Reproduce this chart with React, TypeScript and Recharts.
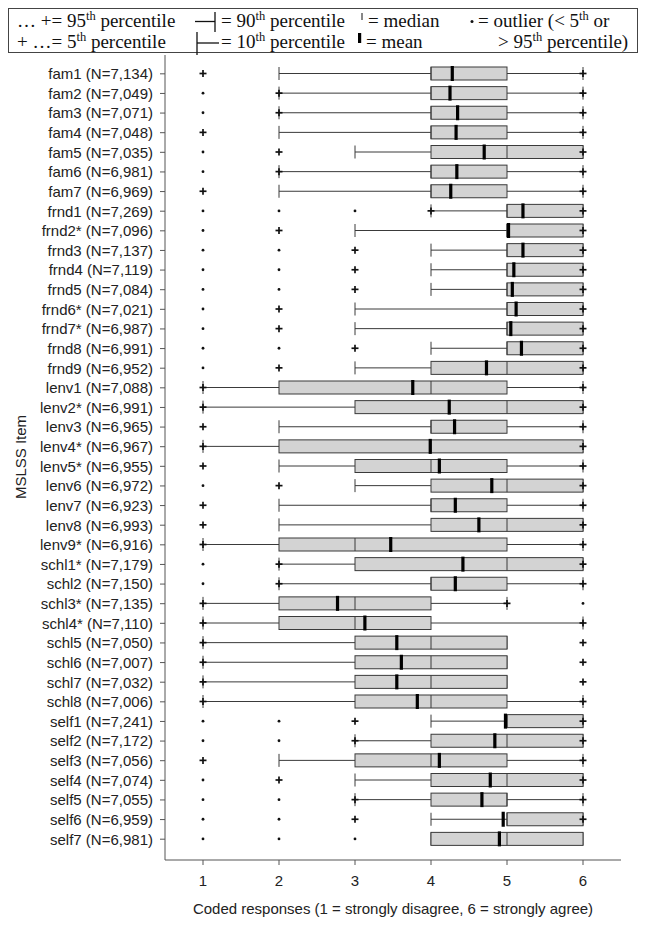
import React from 'react';
import { ComposedChart, Bar, XAxis, YAxis } from 'recharts';

const items = [
  'fam1 (N=7,134)', 'fam2 (N=7,049)', 'fam3 (N=7,071)', 'fam4 (N=7,048)',
  'fam5 (N=7,035)', 'fam6 (N=6,981)', 'fam7 (N=6,969)',
  'frnd1 (N=7,269)', 'frnd2* (N=7,096)', 'frnd3 (N=7,137)', 'frnd4 (N=7,119)',
  'frnd5 (N=7,084)', 'frnd6* (N=7,021)', 'frnd7* (N=6,987)', 'frnd8 (N=6,991)',
  'frnd9 (N=6,952)',
  'lenv1 (N=7,088)', 'lenv2* (N=6,991)', 'lenv3 (N=6,965)', 'lenv4* (N=6,967)',
  'lenv5* (N=6,955)', 'lenv6 (N=6,972)', 'lenv7 (N=6,923)', 'lenv8 (N=6,993)',
  'lenv9* (N=6,916)',
  'schl1* (N=7,179)', 'schl2 (N=7,150)', 'schl3* (N=7,135)', 'schl4* (N=7,110)',
  'schl5 (N=7,050)', 'schl6 (N=7,007)', 'schl7 (N=7,032)', 'schl8 (N=7,006)',
  'self1 (N=7,241)', 'self2 (N=7,172)', 'self3 (N=7,056)', 'self4 (N=7,074)',
  'self5 (N=7,055)', 'self6 (N=6,959)', 'self7 (N=6,981)',
];

// dots below the 5th percentile
const lowOutliers: number[][] = [
  [], [1], [1], [], [1], [1], [],
  [1, 2, 3], [1], [1, 2], [1, 2], [1, 2], [1], [1], [1, 2], [1],
  [], [], [], [], [], [1], [], [], [],
  [1], [1], [], [], [], [], [], [],
  [1, 2], [1, 2], [], [1], [1, 2], [1, 2], [1, 2, 3],
];
// dots above the 95th percentile
const highOutliers: number[][] = [
  [], [], [], [], [], [], [],
  [], [], [], [], [], [], [], [], [],
  [], [], [], [], [], [], [], [], [],
  [], [], [6], [], [], [], [], [],
  [], [], [], [], [], [], [],
];

const p5: (number | null)[] = [
  1, 2, 2, 1, 2, 2, 1,
  4, 2, 3, 3, 3, 2, 2, 3, 2,
  1, 1, 1, 1, 1, 2, 1, 1, 1,
  2, 2, 1, 1, 1, 1, 1, 1,
  3, 3, 1, 2, 3, 3, null,
];
const p10 = [
  2, 2, 2, 2, 3, 2, 2,
  4, 3, 4, 4, 4, 3, 3, 4, 3,
  1, 1, 2, 1, 2, 3, 2, 2, 1,
  2, 2, 1, 1, 1, 1, 1, 1,
  4, 3, 2, 3, 3, 4, 4,
];
const q1 = [
  4, 4, 4, 4, 4, 4, 4,
  5, 5, 5, 5, 5, 5, 5, 5, 4,
  2, 3, 4, 2, 3, 4, 4, 4, 2,
  3, 4, 2, 2, 3, 3, 3, 3,
  5, 4, 3, 4, 4, 5, 4,
];
const median = [
  4, 4, 4, 4, 5, 4, 4,
  5, 5, 5, 5, 5, 5, 5, 5, 5,
  4, 5, 4, 4, 4, 5, 4, 5, 3,
  5, 4, 3, 3, 4, 4, 4, 4,
  5, 5, 4, 5, 5, 5, 5,
];
const q3 = [
  5, 5, 5, 5, 6, 5, 5,
  6, 6, 6, 6, 6, 6, 6, 6, 6,
  5, 6, 5, 6, 5, 6, 5, 6, 5,
  6, 5, 4, 4, 5, 5, 5, 5,
  6, 6, 5, 6, 5, 6, 6,
];
const p90 = [
  6, 6, 6, 6, 6, 6, 6,
  6, 6, 6, 6, 6, 6, 6, 6, 6,
  6, 6, 6, 6, 6, 6, 6, 6, 6,
  6, 6, 5, 6, 5, 5, 5, 6,
  6, 6, 6, 6, 6, 6, 6,
];
const p95: (number | null)[] = [
  6, 6, 6, 6, 6, 6, 6,
  6, 6, 6, 6, 6, 6, 6, 6, 6,
  6, 6, 6, 6, 6, 6, 6, 6, 6,
  6, 6, 5, 6, 6, 6, 6, 6,
  6, 6, 6, 6, 6, 6, null,
];
const means = [
  4.28, 4.25, 4.35, 4.33, 4.7, 4.34, 4.26,
  5.21, 5.02, 5.21, 5.09, 5.07, 5.12, 5.05, 5.19, 4.73,
  3.76, 4.24, 4.31, 3.99, 4.11, 4.8, 4.32, 4.63, 3.47,
  4.42, 4.32, 2.77, 3.13, 3.55, 3.61, 3.55, 3.82,
  4.98, 4.84, 4.11, 4.78, 4.67, 4.95, 4.9,
];

const xTicks = [1, 2, 3, 4, 5, 6];

const rows = items.map((name, i) => {
  const all = [
    ...lowOutliers[i], ...highOutliers[i], p10[i], p90[i], means[i],
    ...(p5[i] != null ? [p5[i] as number] : []),
    ...(p95[i] != null ? [p95[i] as number] : []),
  ];
  return {
    name,
    lowOut: lowOutliers[i],
    highOut: highOutliers[i],
    p5: p5[i],
    p10: p10[i],
    q1: q1[i],
    med: median[i],
    q3: q3[i],
    p90: p90[i],
    p95: p95[i],
    mean: means[i],
    lo: Math.min(...all),
    hi: Math.max(...all),
  };
});

const INK = '#3a3a3a';

const BoxShape = (props: any) => {
  const { x, y, width, height, payload: d } = props;
  if (!d) return null;
  const sx = (v: number) => x + ((v - d.lo) / (d.hi - d.lo)) * width;
  const cy = y + height / 2;
  const h = height / 2;
  const plus = (v: number, key: string) => (
    <g key={key} stroke="#111" strokeWidth={1.7}>
      <line x1={sx(v) - 3.5} x2={sx(v) + 3.5} y1={cy} y2={cy} />
      <line x1={sx(v)} x2={sx(v)} y1={cy - 3.5} y2={cy + 3.5} />
    </g>
  );
  return (
    <g>
      <line x1={sx(d.p10)} x2={sx(d.q1)} y1={cy} y2={cy} stroke={INK} strokeWidth={1} />
      <line x1={sx(d.q3)} x2={sx(d.p90)} y1={cy} y2={cy} stroke={INK} strokeWidth={1} />
      <line x1={sx(d.p10)} x2={sx(d.p10)} y1={cy - h} y2={cy + h} stroke={INK} strokeWidth={1} />
      <line x1={sx(d.p90)} x2={sx(d.p90)} y1={cy - h} y2={cy + h} stroke={INK} strokeWidth={1} />
      <rect
        x={sx(d.q1)}
        y={cy - h}
        width={sx(d.q3) - sx(d.q1)}
        height={height}
        fill="#d3d3d3"
        stroke={INK}
        strokeWidth={1}
      />
      <line x1={sx(d.med)} x2={sx(d.med)} y1={cy - h} y2={cy + h} stroke={INK} strokeWidth={1} />
      <rect x={sx(d.mean) - 1.6} y={cy - h - 1} width={3.2} height={height + 2} fill="#000" />
      {d.p5 != null && plus(d.p5, 'p5')}
      {d.p95 != null && plus(d.p95, 'p95')}
      {[...d.lowOut, ...d.highOut].map((v: number, k: number) => (
        <circle key={`o${k}`} cx={sx(v)} cy={cy} r={1.4} fill="#111" />
      ))}
    </g>
  );
};

const serif = '"Liberation Serif", "Times New Roman", serif';
const sans = '"Liberation Sans", Arial, sans-serif';

const Sup = ({ children }: { children: React.ReactNode }) => (
  <span style={{ fontSize: 12.5, position: 'relative', top: -7 }}>{children}</span>
);

const txt = (left: number, top: number, content: React.ReactNode) => (
  <div
    style={{
      position: 'absolute',
      left,
      top,
      fontFamily: serif,
      fontSize: 19,
      lineHeight: '19px',
      whiteSpace: 'nowrap',
      color: '#111',
    }}
  >
    {content}
  </div>
);

const Legend = () => (
  <>
    <div
      style={{
        position: 'absolute',
        left: 8,
        top: 8,
        width: 630,
        height: 45,
        boxSizing: 'border-box',
        border: '1px solid #444',
      }}
    />
    {txt(17, 11, <>… += 95<Sup>th</Sup> percentile</>)}
    {txt(17, 32, <>+ …= 5<Sup>th</Sup> percentile</>)}
    {txt(221, 11, <>= 90<Sup>th</Sup> percentile</>)}
    {txt(221, 32, <>= 10<Sup>th</Sup> percentile</>)}
    {txt(368, 11, <>= median</>)}
    {txt(366, 32, <>= mean</>)}
    {txt(478, 11, <>= outlier (&lt; 5<Sup>th</Sup> or</>)}
    {txt(498, 32, <>&gt; 95<Sup>th</Sup> percentile)</>)}
    <svg
      width={645}
      height={60}
      style={{ position: 'absolute', left: 0, top: 0, overflow: 'visible' }}
    >
      <g stroke="#111" strokeWidth={1.3}>
        <line x1={195} x2={215} y1={21.5} y2={21.5} />
        <line x1={215} x2={215} y1={12} y2={32} />
        <line x1={197} x2={219} y1={43} y2={43} />
        <line x1={197} x2={197} y1={32} y2={55} />
        <line x1={362} x2={362} y1={13} y2={20} strokeWidth={1} />
      </g>
      <rect x={358} y={33} width={3.2} height={10} fill="#000" />
      <circle cx={472} cy={21.5} r={1.5} fill="#111" />
    </svg>
  </>
);

export default function App() {
  return (
    <div style={{ position: 'relative', width: 645, height: 926, background: '#fff' }}>
      <style>{'body{margin:0}'}</style>
      <Legend />
      <div style={{ position: 'absolute', left: 0, top: 0 }}>
        <ComposedChart
          width={645}
          height={926}
          data={rows}
          layout="vertical"
          margin={{ top: 55, right: 24, bottom: 36, left: 30 }}
        >
          <XAxis
            type="number"
            domain={[0.5, 6.5]}
            ticks={xTicks}
            height={30}
            tickSize={5}
            tickMargin={10}
            axisLine={{ stroke: '#555' }}
            tickLine={{ stroke: '#555' }}
            tick={{ fontSize: 15, fill: '#222', fontFamily: sans }}
          />
          <YAxis
            type="category"
            dataKey="name"
            width={135}
            interval={0}
            padding={{ top: 9, bottom: 11 }}
            tickSize={5}
            tickMargin={7}
            axisLine={{ stroke: '#555' }}
            tickLine={{ stroke: '#555' }}
            tick={{ fontSize: 15, fill: '#222', fontFamily: sans }}
          />
          <Bar
            dataKey={(d: any) => [d.lo, d.hi]}
            barSize={13}
            shape={(p: any) => <BoxShape {...p} />}
            isAnimationActive={false}
          />
        </ComposedChart>
      </div>
      <div
        style={{
          position: 'absolute',
          left: 20,
          top: 457,
          transform: 'translate(-50%, -50%) rotate(-90deg)',
          fontFamily: sans,
          fontSize: 15,
          whiteSpace: 'nowrap',
          color: '#222',
        }}
      >
        MSLSS Item
      </div>
      <div
        style={{
          position: 'absolute',
          left: 165,
          top: 901,
          width: 456,
          textAlign: 'center',
          fontFamily: sans,
          fontSize: 15,
          lineHeight: '15px',
          whiteSpace: 'nowrap',
          color: '#222',
        }}
      >
        Coded responses (1 = strongly disagree, 6 = strongly agree)
      </div>
    </div>
  );
}
